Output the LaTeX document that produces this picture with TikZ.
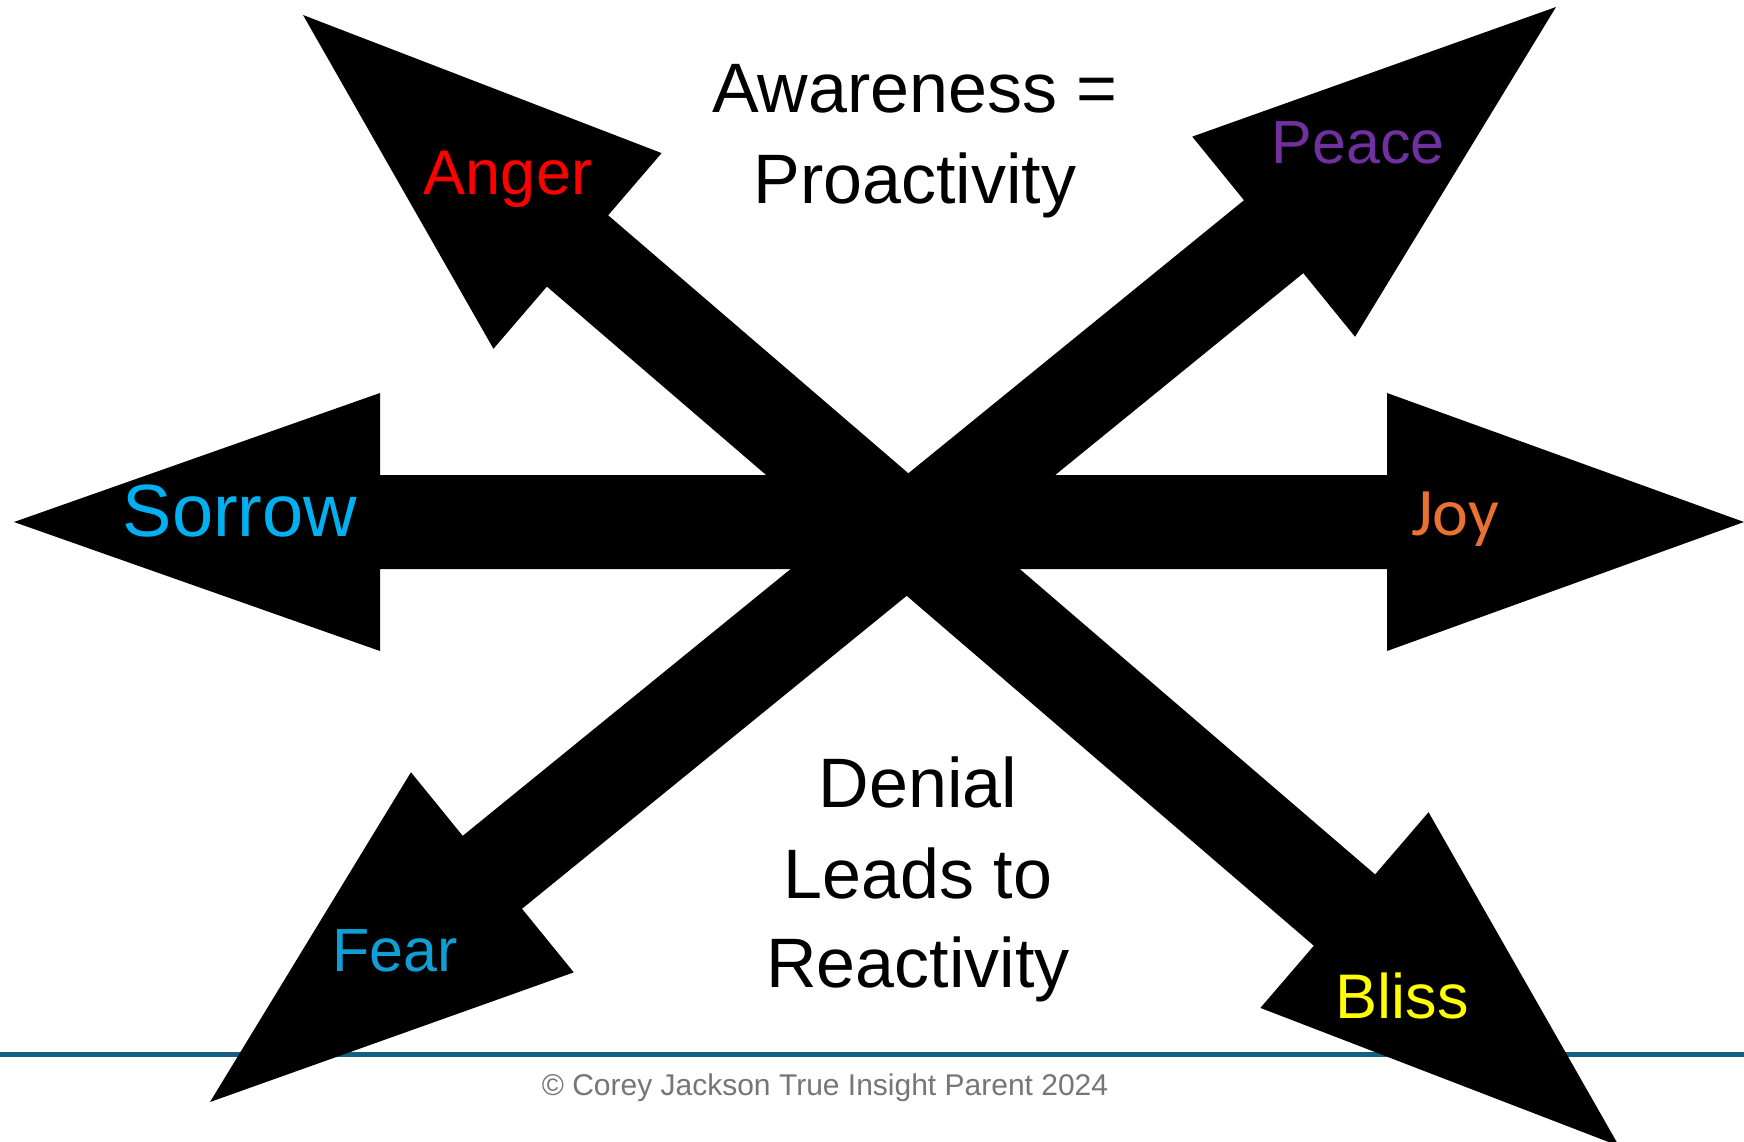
\documentclass[tikz,border=0pt]{standalone}
\usepackage{fontspec}
\setmainfont{Liberation Sans}
\newfontfamily\joyfont{Carlito}
\usetikzlibrary{calc}

\definecolor{angerred}{HTML}{FF0000}
\definecolor{peacepurple}{HTML}{7030A0}
\definecolor{sorrowcyan}{HTML}{00B0F0}
\definecolor{joyorange}{HTML}{E97132}
\definecolor{fearblue}{HTML}{0F9ED5}
\definecolor{blissyellow}{HTML}{FFFF00}
\definecolor{rulecolor}{HTML}{156082}
\definecolor{notegray}{HTML}{767676}

% double-headed block arrow between two tips
% #1,#2 tips; #3 head length at #1; #4 head length at #2;
% #5 head half-width; #6 shaft half-width
\newcommand\blockarrow[6]{%
  \fill[black] (#1)
    -- ($(#1)!#3!(#2)!#5!90:(#2)$)
    -- ($(#1)!#3!(#2)!#6!90:(#2)$)
    -- ($(#2)!#4!(#1)!#6!-90:(#1)$)
    -- ($(#2)!#4!(#1)!#5!-90:(#1)$)
    -- (#2)
    -- ($(#2)!#4!(#1)!#5!90:(#1)$)
    -- ($(#2)!#4!(#1)!#6!90:(#1)$)
    -- ($(#1)!#3!(#2)!#6!-90:(#2)$)
    -- ($(#1)!#3!(#2)!#5!-90:(#2)$)
    -- cycle;}

\tikzset{
  emotion/.style={anchor=base, inner sep=0pt},
  caption/.style={anchor=base, inner sep=0pt, font=\fontsize{70}{91}\selectfont},
}

\begin{document}
\begin{tikzpicture}[x=1pt, y=-1pt]
  \useasboundingbox (0,0) rectangle (1744,1142);
  \fill[white] (0,0) rectangle (1744,1142);

  % footer rule
  \coordinate (ruleL) at (0,1054.5);
  \coordinate (ruleR) at (1744,1054.5);
  \draw[rulecolor, line width=5pt] (ruleL) -- (ruleR);

  % arrow tips
  \coordinate (tipAnger)  at (303,15);
  \coordinate (tipBliss)  at (1619,1146);
  \coordinate (tipPeace)  at (1556,7);
  \coordinate (tipFear)   at (210,1102);
  \coordinate (tipSorrow) at (14,522);
  \coordinate (tipJoy)    at (1744,522);

  \blockarrow{tipAnger}{tipBliss}{362pt}{362pt}{129pt}{47pt}
  \blockarrow{tipPeace}{tipFear}{364pt}{364pt}{129pt}{47pt}
  \blockarrow{tipSorrow}{tipJoy}{366pt}{357pt}{129pt}{47pt}

  % emotion labels
  \node[emotion, text=angerred,    font=\fontsize{63}{70}\selectfont] (anger)  at (508,194)  {Anger};
  \node[emotion, text=peacepurple, font=\fontsize{61}{70}\selectfont] (peace)  at (1358,164) {Peace};
  \node[emotion, text=sorrowcyan,  font=\fontsize{74}{80}\selectfont] (sorrow) at (240,536)  {Sorrow};
  \node[emotion, text=joyorange,   font=\joyfont\fontsize{68}{80}\selectfont] (joy) at (1455,535) {Joy};
  \node[emotion, text=fearblue,    font=\fontsize{61}{70}\selectfont] (fear)   at (395,971)  {Fear};
  \node[emotion, text=blissyellow, font=\fontsize{63}{70}\selectfont] (bliss)  at (1402,1018) {Bliss};

  % central captions
  \node[caption] (aware1) at (915,113) {Awareness =};
  \node[caption] (aware2) at (915,204) {Proactivity};
  \node[caption] (deny1)  at (918,807) {Denial};
  \node[caption] (deny2)  at (918,898) {Leads to};
  \node[caption] (deny3)  at (918,987) {Reactivity};

  % footer note
  \node[anchor=base, inner sep=0pt, text=notegray, font=\fontsize{30}{36}\selectfont] (note) at (825,1095)
    {\textcopyright{} Corey Jackson True Insight Parent 2024};
\end{tikzpicture}
\end{document}
